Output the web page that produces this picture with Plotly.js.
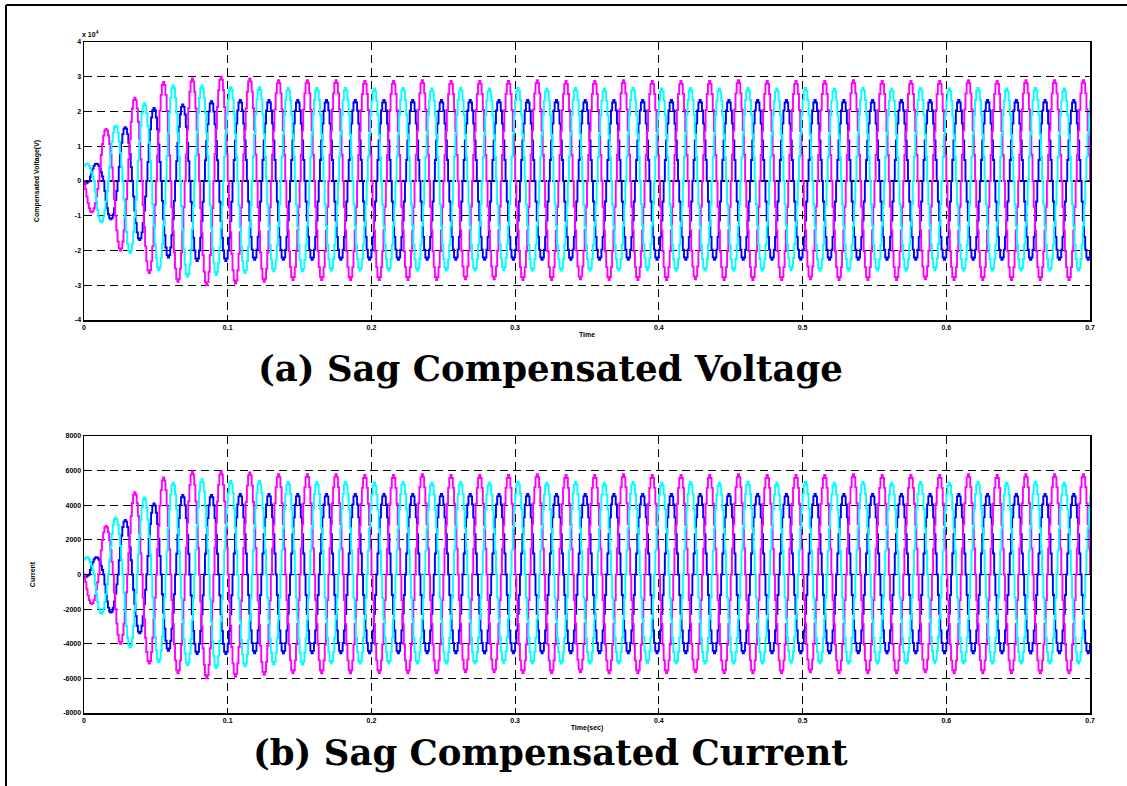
<!DOCTYPE html>
<html>
<head>
<meta charset="utf-8">
<script src="https://cdn.plot.ly/plotly-3.0.1.min.js"></script>
<style>
html,body{margin:0;padding:0;background:#fff;}
#chart{width:1127px;height:786px;}
</style>
</head>
<body>
<div id="chart"></div>
<script>
// ---------------- data ----------------
// x axis
const xTickVals = [0, 0.1, 0.2, 0.3, 0.4, 0.5, 0.6, 0.7];
const xTickText = ["0", "0.1", "0.2", "0.3", "0.4", "0.5", "0.6", "0.7"];
// voltage axis (labels, multiplied by 10^4)
const vTickLabels = [-4, -3, -2, -1, 0, 1, 2, 3, 4];
const vTickScale = 10000;
// current axis
const iTickVals = [-8000, -6000, -4000, -2000, 0, 2000, 4000, 6000, 8000];
const iTickText = ["-8000", "-6000", "-4000", "-2000", "0", "2000", "4000", "6000", "8000"];

// one cycle of the phase waveform (normalised, 24 steps per 20 ms cycle)
const cycleShape = [0, -0.26, -0.5, -0.71, -0.87, -0.97, -1, -0.97, -0.87, -0.71, -0.5, -0.26,
                    0, 0.26, 0.5, 0.71, 0.87, 0.97, 1, 0.97, 0.87, 0.71, 0.5, 0.26];
const samplesPerCycle = 24;
const cyclePeriod = 0.02;   // s (50 Hz)
const tEnd = 0.7;
// phase shift of each phase in samples (120 deg = 8 samples)
const shiftMagenta = 0, shiftCyan = -8, shiftBlue = 8;

// half-cycle peak magnitudes (V), read per half cycle
const voltMagenta = [0, 9000, 15000, 20000, 24000, 26500, 28500, 29000, 29500, 30000, 30000, 29500,
  29500, 29000, 29000, 28500, 29000, 28500, 29000, 28500, 28800, 28500, 28800, 28500,
  29000, 28500, 28800, 28300, 28800, 28300, 28800, 28500, 29000, 28500, 28800, 28300,
  28800, 28500, 29000, 28500, 28800, 28500, 28800, 28300, 28800, 28500, 29000, 28500,
  28800, 28500, 28800, 28300, 28800, 28500, 29000, 28500, 28800, 28500, 28800, 28300,
  28800, 28500, 29000, 28500, 28800, 28500, 29000, 28500, 29000, 28500, 29000, 29000];
const voltCyan = [5000, 11800, 16000, 20700, 22400, 25600, 27500, 27600, 27500, 27000, 27000, 26500,
  27000, 26000, 26800, 26000, 26800, 25800, 26800, 25800, 26600, 25800, 26800, 25800,
  26600, 25800, 26800, 25800, 26600, 25600, 26800, 25800, 26600, 25800, 26800, 25800,
  26600, 25800, 26800, 25600, 26600, 25800, 26800, 25800, 26600, 25800, 26800, 25800,
  26600, 25600, 26800, 25800, 26600, 25800, 26800, 25800, 26600, 25800, 26800, 25600,
  26600, 25800, 26800, 25800, 26600, 25800, 26800, 25800, 26600, 25800, 26800, 26000];
const voltBlue = [0, 1000, 5000, 11000, 15500, 17000, 21000, 22000, 22000, 23000, 23000, 23000,
  23300, 22700, 23300, 22700, 23300, 22700, 23300, 22700, 23300, 22700, 23300, 22700,
  23300, 22700, 23300, 22700, 23300, 22700, 23300, 22700, 23300, 22700, 23300, 22700,
  23300, 22700, 23300, 22700, 23300, 22700, 23300, 22700, 23300, 22700, 23300, 22700,
  23300, 22700, 23300, 22700, 23300, 22700, 23300, 22700, 23300, 22700, 23300, 22700,
  23300, 22700, 23300, 22700, 23300, 22700, 23300, 22700, 23300, 22700, 23300, 22700];

// half-cycle peak magnitudes (A), read per half cycle
const currMagenta = [0, 1700, 2800, 4000, 4750, 5150, 5600, 5700, 5950, 6000, 5950, 5900,
  5900, 5800, 5800, 5700, 5800, 5700, 5800, 5700, 5750, 5700, 5750, 5700,
  5800, 5700, 5750, 5650, 5750, 5650, 5750, 5700, 5800, 5700, 5750, 5650,
  5750, 5700, 5800, 5700, 5750, 5700, 5750, 5650, 5750, 5700, 5800, 5700,
  5750, 5700, 5750, 5650, 5750, 5700, 5800, 5700, 5750, 5700, 5750, 5650,
  5750, 5700, 5800, 5700, 5750, 5700, 5800, 5700, 5800, 5700, 5800, 5800];
const currCyan = [1000, 2250, 3300, 4200, 4450, 5050, 5300, 5250, 5500, 5400, 5400, 5300,
  5400, 5200, 5350, 5200, 5350, 5150, 5350, 5150, 5300, 5150, 5350, 5150,
  5300, 5150, 5350, 5150, 5300, 5100, 5350, 5150, 5300, 5150, 5350, 5150,
  5300, 5150, 5350, 5100, 5300, 5150, 5350, 5150, 5300, 5150, 5350, 5150,
  5300, 5100, 5350, 5150, 5300, 5150, 5350, 5150, 5300, 5150, 5350, 5100,
  5300, 5150, 5350, 5150, 5300, 5150, 5350, 5150, 5300, 5150, 5350, 5200];
const currBlue = [0, 200, 1000, 2200, 3150, 3400, 4100, 4400, 4600, 4600, 4600, 4600,
  4650, 4550, 4650, 4550, 4650, 4550, 4650, 4550, 4650, 4550, 4650, 4550,
  4650, 4550, 4650, 4550, 4650, 4550, 4650, 4550, 4650, 4550, 4650, 4550,
  4650, 4550, 4650, 4550, 4650, 4550, 4650, 4550, 4650, 4550, 4650, 4550,
  4650, 4550, 4650, 4550, 4650, 4550, 4650, 4550, 4650, 4550, 4650, 4550,
  4650, 4550, 4650, 4550, 4650, 4550, 4650, 4550, 4650, 4550, 4650, 4550];

// ---------------- build the traces ----------------
const dt = cyclePeriod / samplesPerCycle;
const nSamples = Math.round(tEnd / dt);
const half = samplesPerCycle / 2;
function phaseWave(env, shift) {
  const xs = [], ys = [];
  for (let j = 0; j <= nSamples; j++) {
    const s = j + shift;
    const ti = ((s % samplesPerCycle) + samplesPerCycle) % samplesPerCycle;
    const hc = Math.floor(s / half);
    xs.push(j * dt);
    ys.push(cycleShape[ti] * env[hc + 1]);
  }
  return {xs, ys};
}
const colors = {magenta: '#ff00ff', cyan: '#00ffff', blue: '#0000ff'};
function tr(env, shift, color, xa, ya) {
  const w = phaseWave(env, shift);
  return {x: w.xs, y: w.ys, type: 'scatter', mode: 'lines', xaxis: xa, yaxis: ya,
          line: {color: color, width: 1.9, shape: 'hv'}, showlegend: false, hoverinfo: 'skip'};
}
const data = [
  tr(voltBlue, shiftBlue, colors.blue, 'x', 'y'),
  tr(voltMagenta, shiftMagenta, colors.magenta, 'x', 'y'),
  tr(voltCyan, shiftCyan, colors.cyan, 'x', 'y'),
  tr(currBlue, shiftBlue, colors.blue, 'x2', 'y2'),
  tr(currMagenta, shiftMagenta, colors.magenta, 'x2', 'y2'),
  tr(currCyan, shiftCyan, colors.cyan, 'x2', 'y2')
];

// ---------------- layout ----------------
const W = 1127, H = 786, mL = 84, mR = 37, mT = 42, mB = 73;
const pw = W - mL - mR, ph = H - mT - mB;
const px = x => (x - mL) / pw;
const py = y => (H - mB - y) / ph;
const tickFont = {family: 'Liberation Sans, Arial, sans-serif', size: 7, color: '#000', weight: 'bold'};
function xAx(anchor, title) {
  return {anchor: anchor, domain: [0, 1], range: [0, 0.7], tickvals: xTickVals, ticktext: xTickText,
    showgrid: true, gridcolor: '#000', griddash: '8px,5px', gridwidth: 1.2, zeroline: false,
    showline: true, mirror: 'ticks', linecolor: '#000', linewidth: 1.5,
    ticks: 'inside', ticklen: 5, tickcolor: '#000', tickfont: tickFont,
    title: {text: title, font: tickFont, standoff: 2}};
}
function yAx(anchor, domain, range, tv, tt, title, standoff) {
  return {anchor: anchor, domain: domain, range: range, tickvals: tv, ticktext: tt,
    showgrid: true, gridcolor: '#000', griddash: '8px,5px', gridwidth: 1.2, zeroline: false,
    showline: true, mirror: 'ticks', linecolor: '#000', linewidth: 1.5,
    ticks: 'inside', ticklen: 5, tickcolor: '#000', tickfont: tickFont,
    title: {text: title, font: tickFont, standoff: standoff}};
}
const titleFont = {family: 'DejaVu Serif, Liberation Serif, serif', size: 35.5, color: '#000', weight: 'bold'};
const layout = {
  width: W, height: H,
  margin: {l: mL, r: mR, t: mT, b: mB},
  paper_bgcolor: '#fff', plot_bgcolor: '#fff',
  showlegend: false,
  xaxis: xAx('y', 'Time'),
  yaxis: yAx('x', [py(320), 1], [-4 * vTickScale, 4 * vTickScale],
             vTickLabels.map(v => v * vTickScale), vTickLabels.map(String), 'Compensated Voltage(V)', 34),
  xaxis2: xAx('y2', 'Time(sec)'),
  yaxis2: yAx('x2', [0, py(436)], [-8000, 8000], iTickVals, iTickText, 'Current', 26),
  annotations: [
    {text: '(a) Sag Compensated Voltage', x: px(550), y: py(368), xref: 'paper', yref: 'paper',
     xanchor: 'center', yanchor: 'middle', showarrow: false, font: titleFont},
    {text: '(b) Sag Compensated Current', x: px(550), y: py(752), xref: 'paper', yref: 'paper',
     xanchor: 'center', yanchor: 'middle', showarrow: false, font: titleFont},
    {text: 'x 10<sup>4</sup>', x: px(80), y: py(40), xref: 'paper', yref: 'paper',
     xanchor: 'left', yanchor: 'bottom', showarrow: false, font: tickFont}
  ],
  shapes: [
    {type: 'line', xref: 'paper', yref: 'paper', x0: px(6), y0: py(5), x1: px(1135), y1: py(5),
     line: {color: '#000', width: 2}},
    {type: 'line', xref: 'paper', yref: 'paper', x0: px(6), y0: py(5), x1: px(6), y1: py(795),
     line: {color: '#000', width: 2}}
  ]
};
Plotly.newPlot('chart', data, layout, {staticPlot: true, displayModeBar: false});
</script>
</body>
</html>
